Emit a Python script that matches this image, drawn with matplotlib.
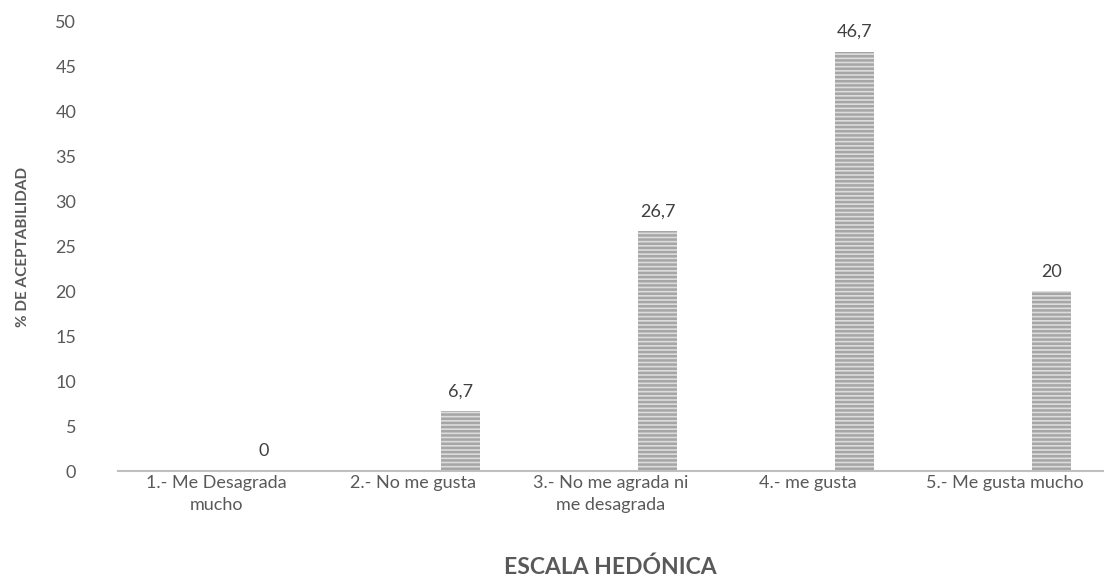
import matplotlib.pyplot as plt
import numpy as np

categorias = ["1.- Me Desagrada\nmucho", "2.- No me gusta", "3.- No me agrada ni\nme desagrada",
              "4.- me gusta", "5.- Me gusta mucho"]
aceptabilidad = [0, 6.7, 26.7, 46.7, 20]
etiquetas = ["0", "6,7", "26,7", "46,7", "20"]

plt.rcParams['font.family'] = ['Lato', 'DejaVu Sans']
plt.rcParams['hatch.linewidth'] = 1.8

fig = plt.figure(figsize=(11.11, 5.86), dpi=100)
ax = fig.add_axes([118/1111, 115/586, 985/1111, 449/586])

x = np.arange(len(categorias))
desplazamiento = 0.24
barras = ax.bar(x + desplazamiento, aceptabilidad, width=0.2, color='#dcdcdc',
                hatch='----', edgecolor='#a6a6a6', linewidth=0)

for xi, v, t in zip(x, aceptabilidad, etiquetas):
    ax.text(xi + desplazamiento, v + 1.3, t, ha='center', va='bottom',
            fontsize=13, color='#404040')

ax.set_xlim(-0.5, len(categorias) - 0.5)
ax.set_ylim(0, 50)
ax.set_yticks(range(0, 51, 5))
ax.set_xticks(x)
ax.set_xticklabels(categorias, fontsize=13, color='#595959', linespacing=1.45)
ax.tick_params(axis='y', labelsize=13, labelcolor='#595959', length=0, pad=30)
ax.tick_params(axis='x', length=0, pad=3)

for s in ['top', 'right', 'left']:
    ax.spines[s].set_visible(False)
ax.spines['bottom'].set_color('#bfbfbf')
ax.spines['bottom'].set_linewidth(1.5)

ax.set_xlabel("ESCALA HEDÓNICA", fontsize=16.5, fontweight='bold', color='#595959', labelpad=31)
ax.set_ylabel("% DE ACEPTABILIDAD", fontsize=11, fontweight='bold', color='#595959', labelpad=18)

fig.savefig("out.png", dpi=100)
